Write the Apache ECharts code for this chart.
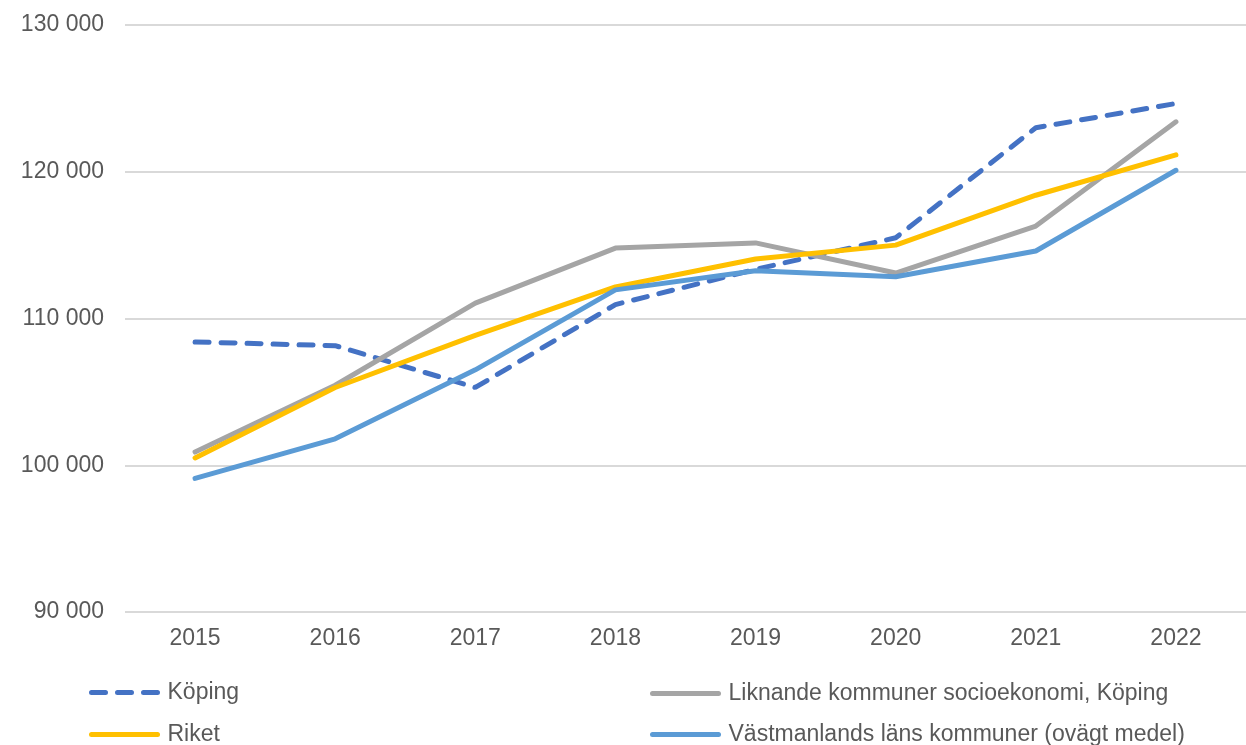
<!DOCTYPE html>
<html>
<head>
<meta charset="utf-8">
<script src="https://cdn.jsdelivr.net/npm/echarts@6/dist/echarts.min.js"></script>
<style>
  html, body { margin: 0; padding: 0; background: #fff; }
  #chart { width: 1246px; height: 745px; }
</style>
</head>
<body>
<div id="chart"></div>
<script>
const years = ["2015", "2016", "2017", "2018", "2019", "2020", "2021", "2022"];
const koping = [108400, 108150, 105300, 110950, 113350, 115500, 123000, 124650];
const liknande = [100900, 105450, 111050, 114800, 115150, 113100, 116300, 123400];
const riket = [100500, 105300, 108850, 112150, 114050, 115000, 118400, 121150];
const vastmanland = [99100, 101800, 106500, 111950, 113250, 112850, 114600, 120100];

const textColor = "#595959";
const font = "'Liberation Sans', Arial, sans-serif";

const chart = echarts.init(document.getElementById("chart"));

function fmt(v) {
  return String(v).replace(/\B(?=(\d{3})+(?!\d))/g, " ");
}

// one legend per item so the 2x2 layout is fixed
function legendItem(name, left, centerY) {
  return {
    data: [name],
    left: left,
    top: centerY - 10,
    padding: 0,
    itemWidth: 66,
    itemHeight: 6,
    lineStyle: { width: 5, cap: "round" },
    itemStyle: { opacity: 0 },
    textStyle: { color: textColor, fontSize: 23, fontFamily: font, padding: [0, 0, 0, 5] },
  };
}

chart.setOption({
  animation: false,
  grid: { left: 125, top: 25, width: 1127, height: 587 },
  xAxis: {
    type: "category",
    data: years,
    boundaryGap: true,
    axisLine: { show: false },
    axisTick: { show: false },
    axisLabel: { color: textColor, fontSize: 23, fontFamily: font, margin: 15 },
  },
  yAxis: {
    type: "value",
    min: 90000,
    max: 130000,
    interval: 10000,
    axisLine: { show: false },
    axisTick: { show: false },
    splitLine: { lineStyle: { color: "#d9d9d9", width: 2 } },
    axisLabel: { color: textColor, fontSize: 23, fontFamily: font, margin: 21, formatter: fmt },
  },
  legend: [
    legendItem("Köping", 89, 691),
    legendItem("Riket", 89, 733),
    legendItem("Liknande kommuner socioekonomi, Köping", 650, 692),
    legendItem("Västmanlands läns kommuner (ovägt medel)", 650, 733),
  ],
  series: [
    {
      name: "Köping",
      type: "line",
      data: koping,
      symbol: "none",
      color: "#4472C4",
      lineStyle: { width: 5, type: [14, 12], cap: "round" },
    },
    {
      name: "Liknande kommuner socioekonomi, Köping",
      type: "line",
      data: liknande,
      symbol: "none",
      color: "#A5A5A5",
      lineStyle: { width: 5, cap: "round" },
    },
    {
      name: "Riket",
      type: "line",
      data: riket,
      symbol: "none",
      color: "#FFC000",
      lineStyle: { width: 5, cap: "round" },
    },
    {
      name: "Västmanlands läns kommuner (ovägt medel)",
      type: "line",
      data: vastmanland,
      symbol: "none",
      color: "#5B9BD5",
      lineStyle: { width: 5, cap: "round" },
    },
  ],
});
</script>
</body>
</html>
